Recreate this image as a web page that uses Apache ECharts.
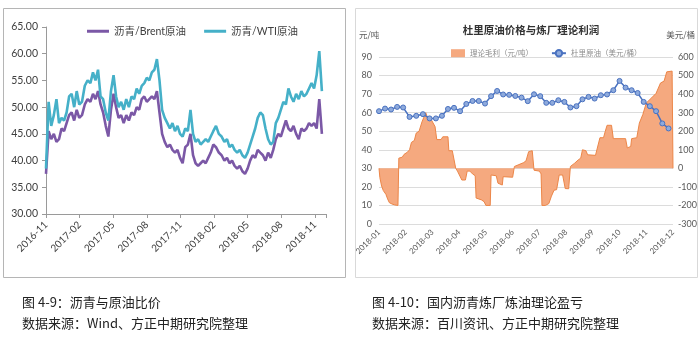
<!DOCTYPE html>
<html>
<head>
<meta charset="utf-8">
<script src="https://cdn.jsdelivr.net/npm/echarts@6/dist/echarts.min.js"></script>
<style>
html,body{margin:0;padding:0;background:#fff}
#c{width:700px;height:344px}
</style>
</head>
<body>
<div id="c"></div>
<script>
// ---- 图 4-9：沥青与原油比价（周度，首周 2016-11-01） ----
const ratioStart = [2016, 10, 1];
const brentRatio = [
  37.5, 45.5, 44, 45, 43.5, 44, 46, 45.5, 47, 48.5,
  49, 47.5, 49.5, 48, 48.5, 50.5, 51.5, 51, 52.5, 51.5,
  53, 50.5, 49, 46.5, 44.5, 49.5, 52.5, 50, 48, 48.5,
  47, 48.5, 47.5, 49, 48.5, 50, 49.5, 51.5, 52, 51,
  51.5, 52, 51.5, 53, 49, 45, 43.5, 42.5, 43, 42,
  41.5, 42, 40.5, 39.5, 42.5, 43, 45, 41, 39.5, 39,
  39.5, 40, 39.5, 40.5, 41.5, 43, 42.5, 41.5, 41, 40,
  40.5, 39.5, 40, 39, 38.5, 39, 38, 37.5, 38.5, 40,
  41, 40.5, 42, 41.5, 41, 40, 41.5, 40.5, 42, 44,
  45, 44.5, 46, 47.5, 46, 45.5, 46.5, 45, 44, 46,
  45.5, 46, 47, 46.5, 47, 46, 51.5, 45
];
const wtiRatio = [
  38.5, 51, 46.5, 48.5, 51.5, 47, 48, 47.5, 49, 52,
  52.5, 50, 53, 50.5, 51, 54, 55, 54.5, 56.5, 55,
  57, 52, 51.5, 49, 47.5, 53, 56, 52, 50, 51,
  49.5, 51.5, 50, 52, 51.5, 53.5, 52.5, 54, 54.5, 55.5,
  55, 56.5, 57, 59, 55, 49.5, 48, 47, 46, 47,
  45.5, 46.5, 45, 44.5, 46, 45.5, 49.5, 45, 43.5, 44,
  43, 43.5, 44, 43.5, 44.5, 45.5, 46.5, 45, 44.5, 43.5,
  44, 42.5, 43, 42, 41.5, 42, 41, 40.5, 41.5, 43,
  44.5, 46, 48, 49, 48.5, 46, 44, 43, 43.5, 47,
  48, 49.5, 51, 50.5, 53.5, 52, 51, 52.5, 51.5, 53,
  52, 52.5, 53.5, 54.5, 53.5, 56, 60.5, 53
];
const ratioTicks = ['2016-11', '2017-02', '2017-05', '2017-08', '2017-11',
                    '2018-02', '2018-05', '2018-08', '2018-11'];

// ---- 图 4-10：杜里原油价格与炼厂理论利润（2018） ----
const yearStart = [2018, 0, 1];
// 理论毛利（元/吨）：自 2018-01-01 起的天数与对应数值
const profitDays = [
  0, 1, 3, 5, 8, 10, 12, 15, 18, 22, 23, 27, 29, 33, 35, 37, 40, 42, 45, 48,
  52, 54, 58, 62, 64, 69, 71, 77, 78, 82, 86, 88, 90, 93, 97, 99, 102, 105, 108, 109,
  115, 118, 120, 125, 126, 132, 134, 136, 139, 140, 151, 153, 158, 163, 166, 169, 173, 175, 181, 183,
  184, 188, 192, 195, 198, 201, 204, 208, 211, 215, 217, 222, 226, 229, 231, 235, 237, 246, 248, 251,
  255, 257, 259, 264, 266, 280, 282, 286, 287, 293, 296, 300, 304, 310, 315, 320, 324, 327, 333, 334
];
const profitValues = [
  0, -50, -95, -120, -140, -165, -185, -192, -197, -200, 55, 60, 75, 88, 100, 140, 150, 190, 200, 250,
  300, 270, 260, 225, 155, 155, 170, 170, 95, 95, 0, -15, -20, -63, -63, -15, -15, -30, -40, -160,
  -170, -180, -200, -200, -36, -40, -80, -90, -90, -45, -48, 10, 20, 30, 40, 90, 95, -10, -15, -30,
  -200, -200, -190, -150, -118, -115, -36, -36, -109, -110, 10, 28, 45, 55, 100, 95, 73, 70, 75, 165,
  165, 200, 232, 232, 160, 160, 110, 118, 160, 165, 244, 290, 352, 380, 404, 460, 470, 520, 524, 0
];
// 杜里原油（美元/桶），周度，首周 2018-01-01
const duriPrice = [
  60.8, 62.2, 61.7, 63.1, 62.8, 57.7, 58.3, 59.2, 56.9, 56.9,
  58.3, 62.0, 62.6, 60.8, 64.7, 66.3, 66.3, 64.9, 68.9, 71.7,
  69.8, 69.6, 69.0, 68.1, 66.2, 69.9, 68.9, 65.3, 65.3, 66.7,
  65.8, 62.8, 63.5, 67.2, 68.5, 67.6, 69.4, 69.8, 72.1, 77.1,
  73.5, 72.1, 70.6, 65.8, 63.5, 60.8, 54.2, 51.5
];
const monthLabels = ['2018-01', '2018-02', '2018-03', '2018-04', '2018-05', '2018-06',
                     '2018-07', '2018-08', '2018-09', '2018-10', '2018-11', '2018-12'];

// position of a date on a month-based axis (whole months since y0/m0 plus fraction)
function monthPos(d, y0, m0) {
  const y = d.getFullYear(), m = d.getMonth();
  const dim = new Date(y, m + 1, 0).getDate();
  return (y - y0) * 12 + (m - m0) + (d.getDate() - 1) / dim;
}
function dayAfter(start, n) {
  return new Date(start[0], start[1], start[2] + n);
}

const brentData = brentRatio.map((v, i) => [monthPos(dayAfter(ratioStart, 7 * i), 2016, 10), v]);
const wtiData = wtiRatio.map((v, i) => [monthPos(dayAfter(ratioStart, 7 * i), 2016, 10), v]);
const profitData = profitValues.map((v, i) => [monthPos(dayAfter(yearStart, profitDays[i]), 2018, 0), v]);
const duriData = duriPrice.map((v, i) => [monthPos(dayAfter(yearStart, 7 * i), 2018, 0), v]);

const CJK = '"Noto Sans CJK SC", sans-serif';
const LAT = 'Lato, "Noto Sans CJK SC", sans-serif';

const chart = echarts.init(document.getElementById('c'));
chart.setOption({
  animation: false,
  backgroundColor: '#fff',
  textStyle: { fontFamily: CJK },
  title: [{
    text: '杜里原油价格与炼厂理论利润',
    left: 526, top: 20, textAlign: 'center',
    textStyle: { fontSize: 10.5, fontWeight: 'bold', color: '#333', fontFamily: CJK }
  }],
  legend: [{
    data: [{ name: '沥青/Brent原油', icon: 'rect' }, { name: '沥青/WTI原油', icon: 'rect' }],
    left: 82, top: 21,
    itemWidth: 22, itemHeight: 3, itemGap: 18,
    textStyle: { fontSize: 10.5, color: '#404040', fontFamily: LAT }
  }, {
    data: [{ name: '理论毛利（元/吨）', icon: 'rect' }, '杜里原油（美元/桶）'],
    left: 446, top: 44,
    itemWidth: 14, itemHeight: 8, itemGap: 18,
    textStyle: { fontSize: 7.5, color: '#8c8c8c', fontFamily: CJK }
  }],
  grid: [
    { left: 46, right: 374, top: 27, bottom: 130 },
    { left: 379, right: 25, top: 57, bottom: 120 }
  ],
  xAxis: [{
    gridIndex: 0, type: 'value', min: 0, max: 25, interval: 3,
    axisLine: { show: true, lineStyle: { color: '#9a9a9a' } },
    axisTick: { show: true, length: 4, lineStyle: { color: '#9a9a9a' } },
    splitLine: { show: false },
    axisLabel: {
      rotate: 45, fontSize: 10, color: '#404040', fontFamily: LAT, margin: 9,
      formatter: v => (v % 3 === 0 && v / 3 < ratioTicks.length) ? ratioTicks[v / 3] : ''
    }
  }, {
    gridIndex: 1, type: 'value', min: 0, max: 11, interval: 1,
    axisLine: { show: false }, axisTick: { show: false }, splitLine: { show: false },
    axisLabel: {
      rotate: 45, fontSize: 8, color: '#595959', fontFamily: LAT, margin: 7,
      formatter: v => monthLabels[v] || ''
    }
  }],
  yAxis: [{
    gridIndex: 0, type: 'value', min: 30, max: 65, interval: 5,
    axisLine: { show: true, lineStyle: { color: '#9a9a9a' } },
    axisTick: { show: true, length: 4, lineStyle: { color: '#9a9a9a' } },
    splitLine: { show: false },
    axisLabel: { fontSize: 10.5, color: '#404040', fontFamily: LAT, margin: 8, formatter: v => v.toFixed(2) }
  }, {
    gridIndex: 1, type: 'value', min: 0, max: 90, interval: 10,
    axisLine: { show: false }, axisTick: { show: false },
    splitLine: { show: true, lineStyle: { color: '#dcdcdc', width: 1 } },
    axisLabel: { fontSize: 9, color: '#595959', fontFamily: LAT, margin: 7 }
  }, {
    gridIndex: 1, type: 'value', position: 'right', min: -300, max: 600, interval: 100,
    axisLine: { show: false }, axisTick: { show: false }, splitLine: { show: false },
    axisLabel: { fontSize: 9, color: '#595959', fontFamily: LAT, margin: 5 }
  }],
  series: [{
    name: '沥青/Brent原油', type: 'line', xAxisIndex: 0, yAxisIndex: 0,
    data: brentData, symbol: 'none', color: '#7b58a6',
    lineStyle: { width: 2.6, color: '#7b58a6' }
  }, {
    name: '沥青/WTI原油', type: 'line', xAxisIndex: 0, yAxisIndex: 0,
    data: wtiData, symbol: 'none', color: '#45b0c8',
    lineStyle: { width: 2.6, color: '#45b0c8' }
  }, {
    name: '理论毛利（元/吨）', type: 'line', xAxisIndex: 1, yAxisIndex: 2,
    data: profitData, symbol: 'none',
    itemStyle: { color: '#f5a97f' },
    lineStyle: { width: 1, color: '#ec8648' },
    areaStyle: { color: '#f5a97f', opacity: 1 }
  }, {
    name: '杜里原油（美元/桶）', type: 'line', xAxisIndex: 1, yAxisIndex: 1,
    data: duriData, symbol: 'circle', symbolSize: 5,
    itemStyle: { color: '#8eaadc', borderColor: '#4a72c0', borderWidth: 1 },
    lineStyle: { width: 1.5, color: '#4a72c0' }
  }],
  graphic: [
    { type: 'rect', shape: { x: 3.5, y: 8.5, width: 342, height: 269 }, style: { fill: 'none', stroke: '#b5b5b5', lineWidth: 1 }, silent: true },
    { type: 'rect', shape: { x: 355.5, y: 8.5, width: 342, height: 269 }, style: { fill: 'none', stroke: '#d9d9d9', lineWidth: 1 }, silent: true },
    { type: 'text', x: 359, y: 35, style: { text: '元/吨', fontSize: 8.5, fill: '#595959', fontFamily: CJK, verticalAlign: 'middle' } },
    { type: 'text', x: 695, y: 35, style: { text: '美元/桶', fontSize: 8.5, fill: '#595959', fontFamily: CJK, align: 'right', verticalAlign: 'middle' } },
    { type: 'text', x: 22, y: 302, style: { text: '图 4-9：沥青与原油比价', fontSize: 13, fill: '#222', fontFamily: CJK, verticalAlign: 'middle' } },
    { type: 'text', x: 22, y: 323, style: { text: '数据来源：Wind、方正中期研究院整理', fontSize: 13, fill: '#222', fontFamily: CJK, verticalAlign: 'middle' } },
    { type: 'text', x: 372, y: 302, style: { text: '图 4-10：国内沥青炼厂炼油理论盈亏', fontSize: 13, fill: '#222', fontFamily: CJK, verticalAlign: 'middle' } },
    { type: 'text', x: 372, y: 323, style: { text: '数据来源：百川资讯、方正中期研究院整理', fontSize: 13, fill: '#222', fontFamily: CJK, verticalAlign: 'middle' } }
  ]
});
</script>
</body>
</html>
